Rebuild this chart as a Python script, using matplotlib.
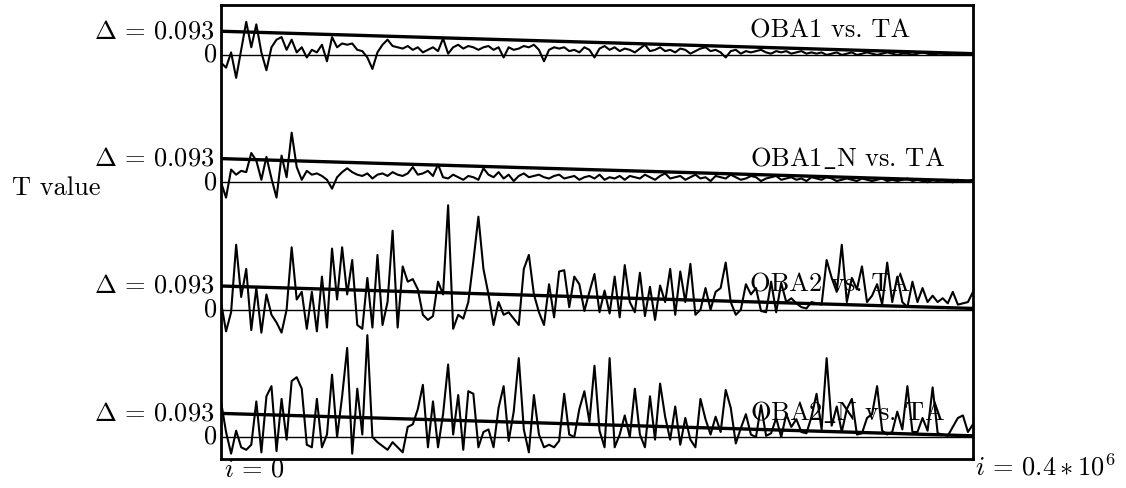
import matplotlib
matplotlib.use("Agg")
import matplotlib.pyplot as plt
import matplotlib.transforms as mtransforms
import numpy as np

plt.rcParams["font.family"] = ["cmr10", "DejaVu Serif"]
plt.rcParams["mathtext.fontset"] = "cm"
plt.rcParams["axes.unicode_minus"] = False

# T values, in units of 1e-3
oba1 = [
    -30, -50, 10, -90, 20, 130, 30, 120, 10, -60,
    30, 60, 70, 20, 60, 10, 30, -10, 20, 10,
    40, -25, 70, 30, 45, 40, 45, 20, 15, -10,
    -55, 10, 40, 60, 35, 30, 25, 35, 20, 30,
    10, 20, 30, 15, 65, 5, 30, 40, 25, 35,
    30, 20, 30, 35, 20, 30, -10, 30, 20, 25,
    35, 30, 40, 20, -25, 20, 30, 25, 30, 15,
    20, 10, 30, 20, -10, 25, 35, 20, 30, 15,
    25, 20, 10, 25, 40, 15, 20, 30, 15, 20,
    10, 25, 20, 5, 15, 25, 30, 15, 20, 10,
    -10, 15, 20, 5, 15, 10, 15, 20, 10, 5,
    15, 10, 15, 5, 10, 15, 5, 10, 5, 10,
    0, 5, 10, 0, 5, 10, 0, 5, 10, 5,
    0, 5, 10, 5, 0, 5, 5, 0, 5, 10,
    5, 0, 5, 5, 0, 5, 5, 0, 5, 5,
]
oba1_n = [
    0, -60, 50, 30, 45, 40, 115, 85, 10, 100,
    15, -60, 105, 20, 195, 60, 10, 45, 30, 35,
    25, 10, -25, 20, 40, 55, 40, 30, 25, 35,
    15, 30, 35, 25, 40, 30, 25, 35, 60, 30,
    35, 45, 25, 70, 20, 15, 30, 20, 10, 25,
    20, 10, 55, 30, 20, 40, 15, 30, 5, 25,
    35, 20, 25, 30, 20, 15, 25, 30, 15, 20,
    25, 10, 20, 25, 15, 30, 10, 20, 15, 25,
    10, 25, 20, 15, 30, 20, 10, 25, 35, 15,
    20, 25, 10, 20, 30, 15, 20, 5, 25, 20,
    15, 30, 20, 10, 15, 25, 20, 5, 15, 20,
    25, 10, 15, 20, 10, 15, 5, 20, 15, 10,
    20, 15, 5, 10, 15, 10, 5, 15, 10, 5,
    10, 15, 5, 10, 5, 10, 15, 5, 10, 5,
    0, 10, 5, 10, 5, 0, 10, 5, 5, 10,
]
oba2 = [
    30, -85, -10, 255, 50, 160, -80, 85, -90, 60,
    -20, -50, -90, 0, 245, 40, 70, -75, 70, -85,
    130, -70, 240, 40, 245, 60, 195, -60, -75, 125,
    -70, 215, -60, 30, 310, -70, 170, 110, 120, 80,
    -20, -40, -25, 110, 60, 410, -75, -20, -35, 30,
    190, 365, 160, 60, -60, 30, -20, -10, -35, -60,
    160, 215, 60, -10, -60, 100, -30, 150, 155, 10,
    130, 100, -5, 70, 140, -10, 75, -15, 130, -30,
    175, 30, -10, 145, -25, 90, -40, 95, 30, 160,
    -20, 150, 30, 180, -20, 0, 85, 0, 70, 85,
    185, 30, -20, 0, 100, 60, 85, -5, -10, 110,
    -10, 105, 30, 45, 25, 10, 5, 30, 25, 20,
    195, 125, 70, 255, 30, 125, 80, 170, 30, 55,
    100, 20, 185, 30, 130, 30, 10, 110, 30, 85,
    30, 55, 30, 45, 25, 70, 20, 25, 30, 70,
]
oba2_n = [
    140, 20, -65, 25, -40, -50, -30, 140, -60, 160,
    200, -55, 150, -10, 220, 235, 190, -30, -40, 150,
    -40, 10, 245, 0, 160, 350, -65, 190, 10, 400,
    0, -20, -35, -50, -20, -40, -60, 40, 50, 110,
    205, -40, 140, -40, 90, 285, 10, 165, -50, 180,
    170, -40, 20, 30, -40, 115, 200, -15, 100, 310,
    30, -60, 165, 10, -40, -30, -40, -15, 170, 10,
    0, 110, 180, 60, 280, 25, -40, 310, -40, 10,
    85, 0, 190, 10, -40, 160, -10, 210, 80, -10,
    120, -30, 75, -10, -40, 150, 70, 10, 80, 20,
    185, 115, -25, 35, 90, 10, 0, 125, 5, 15,
    75, 0, 90, 40, 70, 20, 15, 80, 170, 30,
    310, 45, 120, 20, 110, 150, 10, 15, 75, 90,
    200, 25, 10, 20, 100, 30, 200, 20, 20, 75,
    25, 195, 15, 10, 5, 40, 75, 85, 20, 50,
]

series = [oba1, oba1_n, oba2, oba2_n]
labels = ["OBA1 vs. TA", r"OBA1$\_$N vs. TA", "OBA2 vs. TA", r"OBA2$\_$N vs. TA"]
offsets = [0.0, -0.5, -1.0, -1.5]
delta_start = 0.093
delta_end = 0.005
i_max = 0.4e6

fig = plt.figure(figsize=(11.26, 4.88), dpi=100)
ax = fig.add_axes([221 / 1126, 1 - 459 / 488, 752 / 1126, 454 / 488])
trans = mtransforms.blended_transform_factory(ax.transAxes, ax.transData)

for vals, lab, off in zip(series, labels, offsets):
    t = np.array(vals) / 1000.0
    x = np.linspace(0, i_max, len(t))
    ax.axhline(off, color="black", lw=1.0)
    ax.plot([0, i_max], [off + delta_start, off + delta_end], color="black", lw=2.4)
    ax.plot(x, off + t, color="black", lw=1.5)
    ax.text(-0.009, off + delta_start, r"$\Delta\, =\, 0.093$", transform=trans,
            ha="right", va="center", fontsize=19)
    ax.text(-0.005, off, "0", transform=trans, ha="right", va="center", fontsize=19)
    ax.text(0.703, off + 0.097, lab, transform=trans, ha="left", va="center",
            fontsize=19)

ax.set_xlim(0, i_max)
ax.set_ylim(-1.586, 0.196)
ax.set_xticks([])
ax.set_yticks([])
for sp in ax.spines.values():
    sp.set_linewidth(2.0)

fig.text(12 / 1126, 1 - 188 / 488, "T value", ha="left", va="center", fontsize=19)
fig.text(224 / 1126, 1 - 470 / 488, r"$i\, =\, 0$", ha="left", va="center", fontsize=19)
fig.text(975 / 1126, 1 - 467 / 488, r"$i\, =\, 0.4 \ast 10^6$", ha="left", va="center",
         fontsize=19)

fig.savefig("out.png", dpi=100)
